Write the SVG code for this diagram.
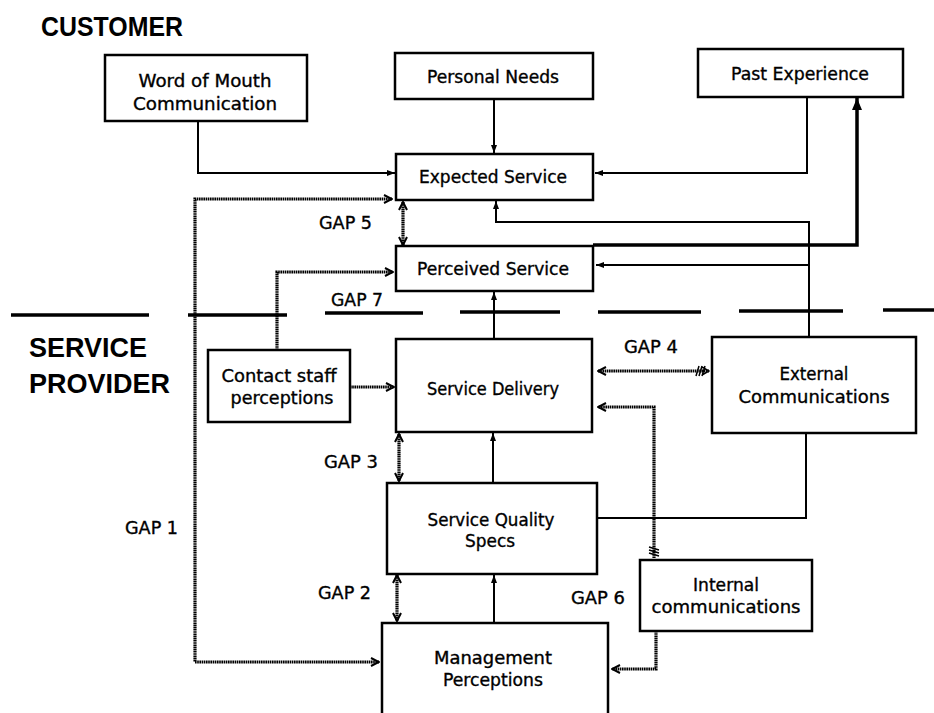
<svg xmlns="http://www.w3.org/2000/svg" width="934" height="713" viewBox="0 0 934 713">
<style>
.box{fill:#fff;stroke:#000;stroke-width:2.5}
.lbl{font-family:"DejaVu Sans","Liberation Sans",sans-serif;font-size:17px;text-anchor:middle;fill:#000;stroke:#000;stroke-width:0.35}
.gap{font-family:"DejaVu Sans","Liberation Sans",sans-serif;font-size:17px;fill:#000;stroke:#000;stroke-width:0.35}
.title{font-family:"Liberation Sans",Arial,sans-serif;font-size:28px;font-weight:bold;fill:#000}
.solid{fill:none;stroke:#000;stroke-width:2}
.thick{fill:none;stroke:#000;stroke-width:3.5}
.dot{fill:none;stroke:#000;stroke-width:3.2;stroke-dasharray:1.6 0.6}
.sep{stroke:#000;stroke-width:3.5}
</style>
<defs>
<marker id="arr" markerUnits="userSpaceOnUse" viewBox="0 0 8 8" refX="8" refY="4" markerWidth="8" markerHeight="8" orient="auto"><path d="M0,1 L8,4 L0,7 z" fill="#000"/></marker>
<marker id="big" markerUnits="userSpaceOnUse" viewBox="0 0 12 12" refX="12" refY="6" markerWidth="12" markerHeight="12" orient="auto"><path d="M0,1 L12,6 L0,11 z" fill="#000"/></marker>
<marker id="open" markerUnits="userSpaceOnUse" viewBox="0 0 10 10" refX="9" refY="5" markerWidth="10" markerHeight="10" orient="auto-start-reverse"><path d="M1,1 L9,5 L1,9" fill="none" stroke="#000" stroke-width="2"/></marker>
<marker id="hatchEnd" markerUnits="userSpaceOnUse" viewBox="0 0 16 12" refX="15" refY="6" markerWidth="16" markerHeight="12" orient="auto"><path d="M2,11 L5,1 M5,11 L8,1 M8,11 L11,1 M8,2 L15,6 L8,10" fill="none" stroke="#000" stroke-width="1.5"/></marker>
<marker id="hatchStart" markerUnits="userSpaceOnUse" viewBox="0 0 14 12" refX="0" refY="6" markerWidth="14" markerHeight="12" orient="auto"><path d="M2,11 L5,1 M5,11 L8,1 M8,11 L11,1" fill="none" stroke="#000" stroke-width="1.5"/></marker>
</defs>
<rect width="934" height="713" fill="#fff"/>

<text class="title" x="41" y="36" textLength="142" lengthAdjust="spacingAndGlyphs">CUSTOMER</text>
<text class="title" x="29" y="357" textLength="118" lengthAdjust="spacingAndGlyphs">SERVICE</text>
<text class="title" x="29" y="393" textLength="141" lengthAdjust="spacingAndGlyphs">PROVIDER</text>

<g id="separator">
<line class="sep" x1="11" y1="315" x2="149" y2="315"/>
<line class="sep" x1="188" y1="315" x2="287" y2="315"/>
<line class="sep" x1="325" y1="313" x2="423" y2="313"/>
<line class="sep" x1="460" y1="312" x2="560" y2="312"/>
<line class="sep" x1="598" y1="312" x2="701" y2="312"/>
<line class="sep" x1="739" y1="311" x2="843" y2="311"/>
<line class="sep" x1="883" y1="310" x2="934" y2="310"/>
</g>

<g id="connectors">
<path class="solid" d="M198,121 V173 H395" marker-end="url(#arr)"/>
<path class="solid" d="M494,100 V153" marker-end="url(#arr)"/>
<path class="solid" d="M807,97 V173 H595" marker-end="url(#arr)"/>
<path class="solid" d="M809,337 V222 H496 V201" marker-end="url(#arr)"/>
<path class="solid" d="M809,265 H596" marker-end="url(#arr)"/>
<path class="thick" d="M593,245 H857 V98" marker-end="url(#big)"/>
<path class="solid" d="M494,339 V292" marker-end="url(#arr)"/>
<path class="solid" d="M493,483 V433" marker-end="url(#arr)"/>
<path class="solid" d="M494,623 V575" marker-end="url(#arr)"/>
<path class="solid" d="M806,433 V518 H598"/>

<path class="dot" d="M392,199 H195 V662 H379" marker-start="url(#open)" marker-end="url(#open)"/>
<path class="dot" d="M277,350 V272 H393" marker-end="url(#open)"/>
<path class="dot" d="M350,387 H394" marker-end="url(#open)"/>
<path class="dot" d="M403,202 V245" marker-start="url(#open)" marker-end="url(#open)"/>
<path class="dot" d="M399,434 V481" marker-start="url(#open)" marker-end="url(#open)"/>
<path class="dot" d="M397,575 V621" marker-start="url(#open)" marker-end="url(#open)"/>
<path class="dot" d="M598,371 H709" marker-start="url(#open)" marker-end="url(#hatchEnd)"/>
<path class="dot" d="M654,558 V407 H598" marker-start="url(#hatchStart)" marker-end="url(#open)"/>
<path class="dot" d="M656,631 V669 H612" marker-end="url(#open)"/>
</g>

<g id="word-of-mouth">
<rect class="box" x="105" y="55" width="202" height="66"/>
<text class="lbl" x="205" y="87" textLength="133" lengthAdjust="spacingAndGlyphs">Word of Mouth</text>
<text class="lbl" x="205" y="110" textLength="144" lengthAdjust="spacingAndGlyphs">Communication</text>
</g>
<g id="personal-needs">
<rect class="box" x="395" y="53" width="198" height="46"/>
<text class="lbl" x="493" y="83" textLength="132" lengthAdjust="spacingAndGlyphs">Personal Needs</text>
</g>
<g id="past-experience">
<rect class="box" x="698" y="49" width="205" height="48"/>
<text class="lbl" x="800" y="80" textLength="138" lengthAdjust="spacingAndGlyphs">Past Experience</text>
</g>
<g id="expected-service">
<rect class="box" x="396" y="154" width="197" height="46"/>
<text class="lbl" x="493" y="183" textLength="148" lengthAdjust="spacingAndGlyphs">Expected Service</text>
</g>
<g id="perceived-service">
<rect class="box" x="396" y="246" width="197" height="45"/>
<text class="lbl" x="493" y="275" textLength="152" lengthAdjust="spacingAndGlyphs">Perceived Service</text>
</g>
<g id="contact-staff">
<rect class="box" x="208" y="350" width="142" height="72"/>
<text class="lbl" x="279" y="382" textLength="115" lengthAdjust="spacingAndGlyphs">Contact staff</text>
<text class="lbl" x="282" y="404" textLength="103" lengthAdjust="spacingAndGlyphs">perceptions</text>
</g>
<g id="service-delivery">
<rect class="box" x="396" y="339" width="196" height="93"/>
<text class="lbl" x="493" y="395" textLength="132" lengthAdjust="spacingAndGlyphs">Service Delivery</text>
</g>
<g id="external-communications">
<rect class="box" x="712" y="337" width="204" height="96"/>
<text class="lbl" x="814" y="380" textLength="69" lengthAdjust="spacingAndGlyphs">External</text>
<text class="lbl" x="814" y="403" textLength="151" lengthAdjust="spacingAndGlyphs">Communications</text>
</g>
<g id="service-quality-specs">
<rect class="box" x="387" y="483" width="210" height="91"/>
<text class="lbl" x="491" y="526" textLength="127" lengthAdjust="spacingAndGlyphs">Service Quality</text>
<text class="lbl" x="490" y="547" textLength="50" lengthAdjust="spacingAndGlyphs">Specs</text>
</g>
<g id="internal-communications">
<rect class="box" x="640" y="560" width="172" height="71"/>
<text class="lbl" x="726" y="591" textLength="66" lengthAdjust="spacingAndGlyphs">Internal</text>
<text class="lbl" x="726" y="613" textLength="149" lengthAdjust="spacingAndGlyphs">communications</text>
</g>
<g id="management-perceptions">
<rect class="box" x="382" y="623" width="226" height="110"/>
<text class="lbl" x="493" y="664" textLength="118" lengthAdjust="spacingAndGlyphs">Management</text>
<text class="lbl" x="493" y="686" textLength="100" lengthAdjust="spacingAndGlyphs">Perceptions</text>
</g>

<g id="gap-labels">
<text class="gap" x="319" y="229" textLength="53" lengthAdjust="spacingAndGlyphs">GAP 5</text>
<text class="gap" x="331" y="306" textLength="52" lengthAdjust="spacingAndGlyphs">GAP 7</text>
<text class="gap" x="624" y="353" textLength="54" lengthAdjust="spacingAndGlyphs">GAP 4</text>
<text class="gap" x="324" y="468" textLength="54" lengthAdjust="spacingAndGlyphs">GAP 3</text>
<text class="gap" x="125" y="534" textLength="53" lengthAdjust="spacingAndGlyphs">GAP 1</text>
<text class="gap" x="318" y="599" textLength="53" lengthAdjust="spacingAndGlyphs">GAP 2</text>
<text class="gap" x="571" y="604" textLength="54" lengthAdjust="spacingAndGlyphs">GAP 6</text>
</g>
</svg>
